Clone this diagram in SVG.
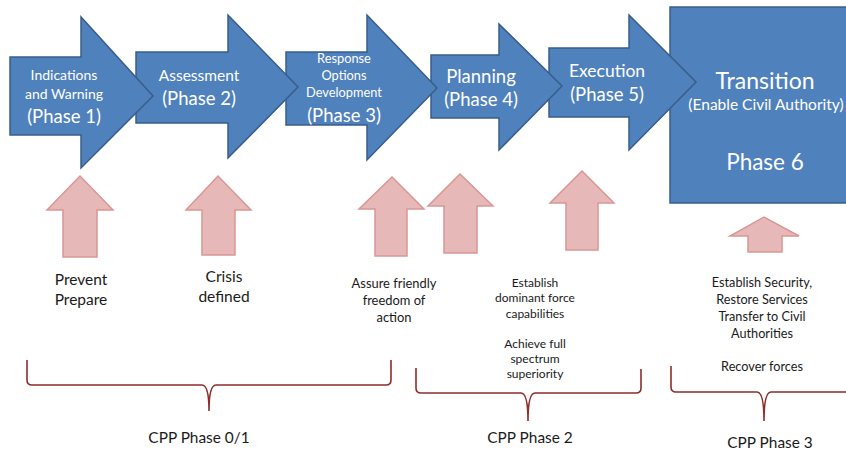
<svg xmlns="http://www.w3.org/2000/svg" width="846" height="454" viewBox="0 0 846 454">
<style>
.blue{fill:#4f81bd;stroke:#385d8a;stroke-width:1.5}
.pink{fill:#e6b9b8;stroke:#d99694;stroke-width:1.5}
.brace{fill:none;stroke:#8e2d2b;stroke-width:1.6}
text{font-family:Lato,"Open Sans","Liberation Sans",sans-serif;text-anchor:middle}
.w{fill:#ffffff}
.k{fill:#1a1a1a}
</style>
<rect width="846" height="454" fill="#ffffff"/>
<g id="phase6">
<rect class="blue" x="670" y="7" width="185" height="196"/>
<text class="w" x="765" y="89" font-size="23">Transition</text>
<text class="w" x="766" y="110" font-size="15.5">(Enable Civil Authority)</text>
<text class="w" x="765" y="170" font-size="22.5">Phase 6</text>
</g>
<g id="phase5">
<path class="blue" d="M549,48 L629,48 L629,15 L696,82 L629,150 L629,117 L549,117 Z"/>
<text class="w" x="607" y="77" font-size="17.5">Execution</text>
<text class="w" x="607" y="101" font-size="18.5">(Phase 5)</text>
</g>
<g id="phase4">
<path class="blue" d="M431,55 L499,55 L499,24 L562,86 L499,150 L499,118 L431,118 Z"/>
<text class="w" x="481" y="83" font-size="18.5">Planning</text>
<text class="w" x="481" y="106" font-size="18.5">(Phase 4)</text>
</g>
<g id="phase3">
<path class="blue" d="M286,52 L367,52 L367,15 L437,88 L367,160 L367,125 L286,125 Z"/>
<text class="w" x="344" y="63" font-size="12.8">Response</text>
<text class="w" x="344" y="80" font-size="12.8">Options</text>
<text class="w" x="344" y="97" font-size="12.8">Development</text>
<text class="w" x="344" y="122" font-size="18.5">(Phase 3)</text>
</g>
<g id="phase2">
<path class="blue" d="M136,52 L228,52 L228,15 L298,87 L228,158 L228,123 L136,123 Z"/>
<text class="w" x="199" y="81" font-size="15.5">Assessment</text>
<text class="w" x="199" y="105" font-size="18.5">(Phase 2)</text>
</g>
<g id="phase1">
<path class="blue" d="M10,57 L81,57 L81,17 L153,96 L81,168 L81,135 L10,135 Z"/>
<text class="w" x="64" y="80" font-size="14">Indications</text>
<text class="w" x="64" y="99" font-size="14">and Warning</text>
<text class="w" x="64" y="123" font-size="18.5">(Phase 1)</text>
</g>
<g id="up1">
<path class="pink" d="M63,257 L63,210 L47,210 L80,176 L113,210 L97,210 L97,257 Z"/>
<text class="k" x="81" y="285" font-size="15.5">Prevent</text>
<text class="k" x="81" y="305" font-size="15.5">Prepare</text>
</g>
<g id="up2">
<path class="pink" d="M202,255 L202,210 L186,210 L218,176 L251,210 L235,210 L235,255 Z"/>
<text class="k" x="224" y="282" font-size="15.5">Crisis</text>
<text class="k" x="224" y="302" font-size="15.5">defined</text>
</g>
<g id="up3">
<path class="pink" d="M375,256 L375,209 L359,209 L392,177 L424,209 L407,209 L407,256 Z"/>
<text class="k" x="394" y="288" font-size="12.9">Assure friendly</text>
<text class="k" x="394" y="305" font-size="12.9">freedom of</text>
<text class="k" x="394" y="322" font-size="12.9">action</text>
</g>
<g id="up4">
<path class="pink" d="M444,253 L444,206 L428,206 L460,174 L493,206 L477,206 L477,253 Z"/>
</g>
<g id="up5">
<path class="pink" d="M566,250 L566,203 L550,203 L582,171 L614,203 L598,203 L598,250 Z"/>
<text class="k" x="535" y="287" font-size="12">Establish</text>
<text class="k" x="535" y="302" font-size="12">dominant force</text>
<text class="k" x="535" y="318" font-size="12">capabilities</text>
<text class="k" x="535" y="348" font-size="12">Achieve full</text>
<text class="k" x="535" y="363" font-size="12">spectrum</text>
<text class="k" x="535" y="378" font-size="12">superiority</text>
</g>
<g id="up6">
<path class="pink" d="M748,252 L748,236 L730,236 L764,217 L799,236 L782,236 L782,252 Z"/>
<text class="k" x="762" y="287" font-size="12.7">Establish Security,</text>
<text class="k" x="762" y="304" font-size="12.7">Restore Services</text>
<text class="k" x="762" y="321" font-size="12.7">Transfer to Civil</text>
<text class="k" x="762" y="338" font-size="12.7">Authorities</text>
<text class="k" x="762" y="371" font-size="12.7">Recover forces</text>
</g>
<g id="connectors">
<path class="brace" d="M27,360 L27,380 Q27,385 32,385 L202,385 Q209,385 209,411 Q209,385 216,385 L386,385 Q391,385 391,380 L391,360"/>
<path class="brace" d="M416,368 L416,388 Q416,393 421,393 L521,393 Q528,393 528,421 Q528,393 535,393 L636,393 Q641,393 641,388 L641,369"/>
<path class="brace" d="M671,366 L671,387 Q671,392 676,392 L757,392 Q764,392 764,421 Q764,392 771,392 L846,392"/>
</g>
<g id="labels">
<text class="k" x="199" y="443" font-size="15.4">CPP Phase 0/1</text>
<text class="k" x="530" y="443" font-size="15.4">CPP Phase 2</text>
<text class="k" x="770" y="448" font-size="15.4">CPP Phase 3</text>
</g>
</svg>
